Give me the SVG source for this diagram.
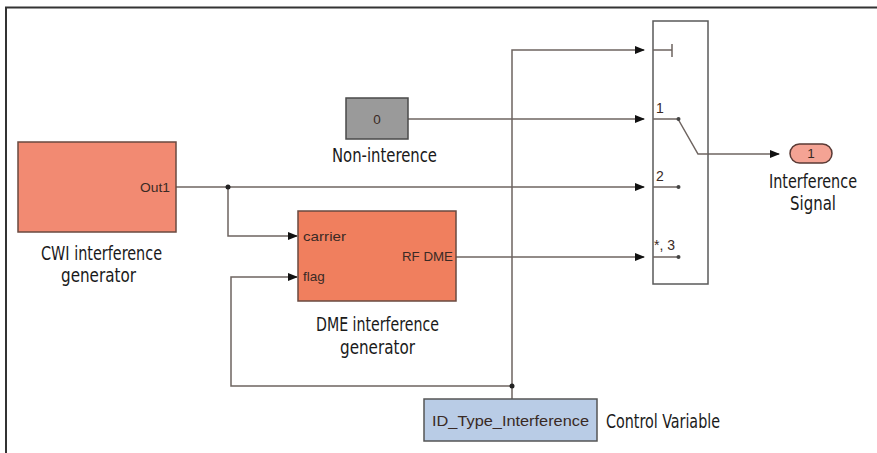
<svg xmlns="http://www.w3.org/2000/svg" width="877" height="453" viewBox="0 0 877 453">
<defs>
<marker id="arr" markerWidth="10" markerHeight="8" refX="9" refY="4" orient="auto" markerUnits="userSpaceOnUse">
<path d="M0,0 L10,4 L0,8 Z" fill="#111"/>
</marker>
<style>
.wire{fill:none;stroke:#6e6460;stroke-width:1.5}
.blk{stroke:#6a4a40;stroke-width:1.5}
.in{font-family:"Liberation Sans",Arial,sans-serif;font-size:13.5px;fill:#3a2a25}
.lbl{font-family:"DejaVu Sans Condensed","Liberation Sans",sans-serif;font-size:20px;fill:#1a1a1a}
.dot{fill:#222}
</style>
</defs>
<rect width="877" height="453" fill="#fff"/>
<path d="M6,453 L6,7.5 L877,7.5" fill="none" stroke="#333" stroke-width="2"/>

<g id="connectors">
<path class="wire" d="M176,187 L644,187" marker-end="url(#arr)"/>
<path class="wire" d="M228,187 L228,236 L297,236" marker-end="url(#arr)"/>
<path class="wire" d="M408,119 L644,119" marker-end="url(#arr)"/>
<path class="wire" d="M456,257 L644,257" marker-end="url(#arr)"/>
<path class="wire" d="M512,399 L512,50 L644,50" marker-end="url(#arr)"/>
<path class="wire" d="M512,386 L231,386 L231,277 L297,277" marker-end="url(#arr)"/>
<path class="wire" d="M708,154 L779,154" marker-end="url(#arr)"/>
<circle class="dot" cx="228" cy="187" r="2.5"/>
<circle class="dot" cx="512" cy="386" r="2.5"/>
</g>

<g id="cwi">
<rect class="blk" x="18" y="142" width="158" height="90" fill="#f28a72"/>
<text class="in" x="170" y="192" text-anchor="end" textLength="30" lengthAdjust="spacingAndGlyphs">Out1</text>
<text class="lbl" x="41" y="260" textLength="121" lengthAdjust="spacingAndGlyphs">CWI interference</text>
<text class="lbl" x="61" y="282" textLength="75" lengthAdjust="spacingAndGlyphs">generator</text>
</g>

<g id="dme">
<rect class="blk" x="298" y="211" width="158" height="90" fill="#f07f5e"/>
<text class="in" x="303" y="241" textLength="43" lengthAdjust="spacingAndGlyphs">carrier</text>
<text class="in" x="303" y="281">flag</text>
<text class="in" x="402" y="261" textLength="51" lengthAdjust="spacingAndGlyphs">RF DME</text>
<text class="lbl" x="316" y="331" textLength="123" lengthAdjust="spacingAndGlyphs">DME interference</text>
<text class="lbl" x="340" y="354" textLength="75" lengthAdjust="spacingAndGlyphs">generator</text>
</g>

<g id="noninterence">
<rect x="346" y="98" width="62" height="41" fill="#9a9a9a" stroke="#4a4a4a" stroke-width="1.5"/>
<text class="in" x="377" y="124" text-anchor="middle" fill="#333">0</text>
<text class="lbl" x="332" y="162" textLength="105" lengthAdjust="spacingAndGlyphs">Non-interence</text>
</g>

<g id="switch">
<rect x="653" y="21" width="55" height="263" fill="#fff" stroke="#5a5a5a" stroke-width="1.5"/>
<path d="M653,50 L672,50 M672,44 L672,57" stroke="#6e6460" stroke-width="1.5" fill="none"/>
<path d="M653,119 L677,119 M653,187 L677,187 M653,257 L677,257" stroke="#6e6460" stroke-width="1.5" fill="none"/>
<path d="M678,119 L698,154 L708,154" stroke="#6e6460" stroke-width="1.5" fill="none"/>
<circle cx="678.5" cy="119" r="2" fill="#444"/>
<circle cx="678.5" cy="187" r="2" fill="#444"/>
<circle cx="678.5" cy="257" r="2" fill="#444"/>
<text class="in" x="656" y="113" style="font-size:14px" fill="#333">1</text>
<text class="in" x="656" y="181" style="font-size:14px" fill="#333">2</text>
<text class="in" x="654" y="250" style="font-size:14px" fill="#333">*, 3</text>
</g>

<g id="output">
<rect x="790" y="144" width="42" height="19" rx="9.5" fill="#f4a394" stroke="#5a3a35" stroke-width="1.5"/>
<text class="in" x="811" y="158" text-anchor="middle" fill="#333">1</text>
<text class="lbl" x="769" y="188" textLength="88" lengthAdjust="spacingAndGlyphs">Interference</text>
<text class="lbl" x="790" y="210" textLength="46" lengthAdjust="spacingAndGlyphs">Signal</text>
</g>

<g id="control">
<rect x="424" y="399" width="173" height="42" fill="#b9cce6" stroke="#555" stroke-width="1.5"/>
<text class="in" x="432" y="426" style="font-size:14px" fill="#333" textLength="157" lengthAdjust="spacingAndGlyphs">ID_Type_Interference</text>
<text class="lbl" x="606" y="428" textLength="114" lengthAdjust="spacingAndGlyphs">Control Variable</text>
</g>
</svg>
